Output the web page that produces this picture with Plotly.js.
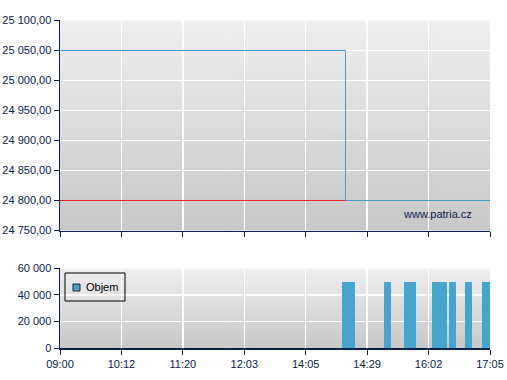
<!DOCTYPE html>
<html>
<head>
<meta charset="utf-8">
<script src="https://cdn.plot.ly/plotly-3.0.1.min.js"></script>
<style>html,body{margin:0;padding:0;background:#fff;}#chart{width:507px;height:380px;}</style>
</head>
<body>
<div id="chart"></div>
<script>
// Tick labels (index axis: equally spaced labels)
var tickLabels = ['09:00', '10:12', '11:20', '12:03', '14:05', '14:29', '16:02', '17:05'];
var tickPos = [0, 1, 2, 3, 4, 5, 6, 7];

// Price series (step)
var priceX = [0, 4.648, 7];
var priceY = [25050, 24800, 24800];

// Reference (previous close) line
var refX = [0, 4.648];
var refY = [24800, 24800];

// Volume bars (centre on index axis, width in index units)
var volName = 'Objem';
var volX = [4.696, 5.331, 5.698, 6.178, 6.389, 6.650, 6.935];
var volW = [0.212, 0.114, 0.195, 0.244, 0.114, 0.114, 0.130];
var volY = [50000, 50000, 50000, 50000, 50000, 50000, 50000];

function gradientURL() {
  var c = document.createElement('canvas');
  c.width = 4; c.height = 256;
  var ctx = c.getContext('2d');
  var g = ctx.createLinearGradient(0, 0, 0, 256);
  g.addColorStop(0, '#efefef');
  g.addColorStop(1, '#c8c8c8');
  ctx.fillStyle = g;
  ctx.fillRect(0, 0, 4, 256);
  return c.toDataURL('image/png');
}
var bg = gradientURL();

var navy = '#0b2150';
var blue = '#45a5cf';
var fam = 'Liberation Sans, Arial, sans-serif';
var font = {family: fam, size: 11, color: navy};

var traces = [
  {x: priceX, y: priceY, type: 'scatter', mode: 'lines', line: {shape: 'hv', color: '#3aa0d2', width: 1},
   xaxis: 'x', yaxis: 'y', showlegend: false, hoverinfo: 'skip'},
  {x: refX, y: refY, type: 'scatter', mode: 'lines', line: {color: '#e8262a', width: 1},
   xaxis: 'x', yaxis: 'y', showlegend: false, hoverinfo: 'skip'},
  {x: volX, y: volY, width: volW, type: 'bar', name: volName, marker: {color: blue, line: {width: 0}},
   xaxis: 'x2', yaxis: 'y2', showlegend: false}
];

var xCommon = {
  range: [0, 7], tickmode: 'array', tickvals: tickPos, ticktext: tickLabels,
  showline: true, linecolor: navy, linewidth: 1.5, ticks: 'outside', ticklen: 5, tickcolor: navy,
  showgrid: true, gridcolor: '#ffffff', gridwidth: 1.5, zeroline: false, tickfont: font, fixedrange: true
};
var yCommon = {
  showline: true, linecolor: navy, linewidth: 1.5, ticks: 'outside', ticklen: 5, tickcolor: navy,
  showgrid: true, gridcolor: '#ffffff', gridwidth: 1.5, zeroline: false, tickfont: font, fixedrange: true
};

var layout = {
  width: 507, height: 380,
  margin: {l: 60, r: 17, t: 20, b: 32},
  paper_bgcolor: '#ffffff', plot_bgcolor: 'rgba(0,0,0,0)',
  separators: ', ',
  font: font,
  showlegend: false,
  xaxis: Object.assign({}, xCommon, {anchor: 'y', showticklabels: false}),
  yaxis: Object.assign({}, yCommon, {domain: [0.35823, 0.998476], range: [24750, 25100], dtick: 50, tick0: 24750, tickformat: ',.2f'}),
  xaxis2: Object.assign({}, xCommon, {anchor: 'y2'}),
  yaxis2: Object.assign({}, yCommon, {domain: [0, 0.2424], range: [0, 60000], dtick: 20000, tickformat: ',d'}),
  bargap: 0,
  images: [
    {source: bg, xref: 'x domain', yref: 'y domain', x: 0, y: 1, sizex: 1, sizey: 1, sizing: 'stretch', layer: 'below', xanchor: 'left', yanchor: 'top'},
    {source: bg, xref: 'x2 domain', yref: 'y2 domain', x: 0, y: 1, sizex: 1, sizey: 1, sizing: 'stretch', layer: 'below', xanchor: 'left', yanchor: 'top'}
  ],
  shapes: [
    // legend box
    {type: 'rect', xref: 'paper', yref: 'paper', x0: 0.01163, x1: 0.15116, y0: 0.14329, y1: 0.22866,
     line: {color: '#000000', width: 1}, fillcolor: 'rgba(0,0,0,0)'},
    // legend swatch
    {type: 'rect', xref: 'paper', yref: 'paper', x0: 0.03023, x1: 0.04651, y0: 0.17378, y1: 0.19512,
     line: {color: '#102040', width: 1}, fillcolor: blue}
  ],
  annotations: [
    {text: 'www.patria.cz', xref: 'paper', yref: 'paper', x: 0.963, y: 0.41, xanchor: 'right', yanchor: 'middle',
     showarrow: false, font: {family: fam, size: 11, color: navy}},
    {text: volName, xref: 'paper', yref: 'paper', x: 0.0558, y: 0.186, xanchor: 'left', yanchor: 'middle',
     showarrow: false, font: {family: fam, size: 11, color: '#000000'}}
  ]
};

Plotly.newPlot('chart', traces, layout, {displayModeBar: false, staticPlot: true});
</script>
</body>
</html>
